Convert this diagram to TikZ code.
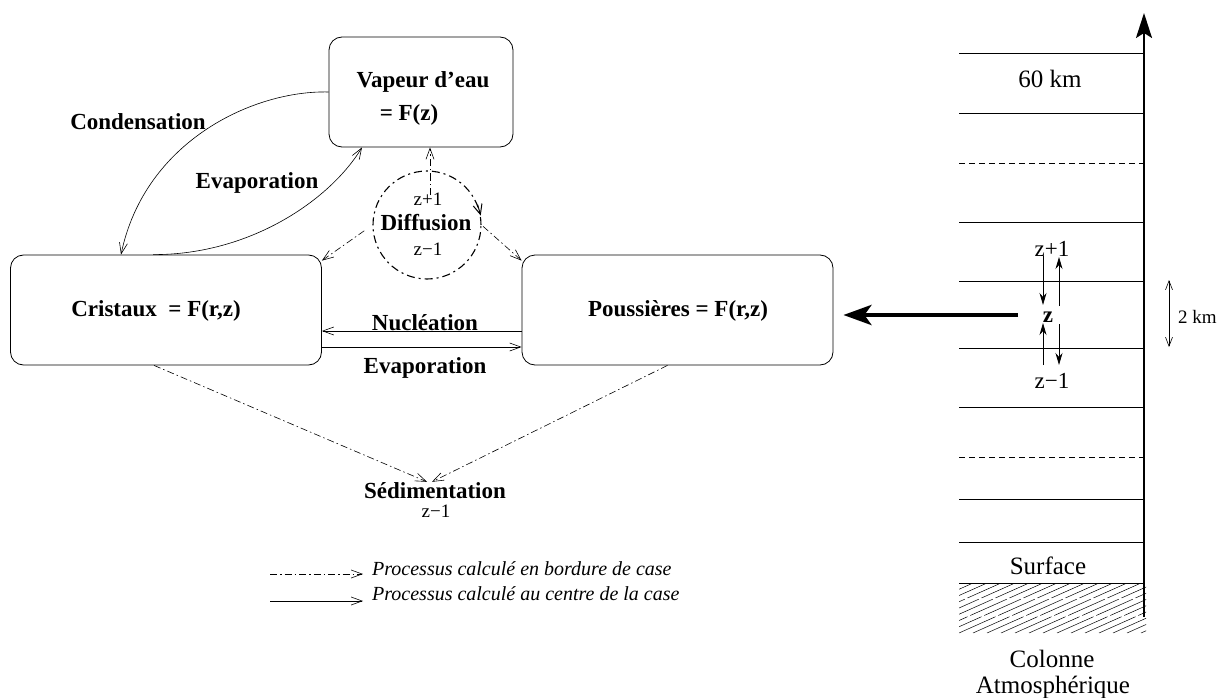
\documentclass[tikz,border=0pt]{standalone}
\usepackage{fontspec}
\setmainfont{Liberation Serif}
\usetikzlibrary{arrows.meta}
\begin{document}
\begin{tikzpicture}[x=1pt,y=-1pt,
  box/.style={draw,rounded corners=13pt,line width=0.8pt,inner sep=0pt},
  big/.style={font=\fontsize{23}{27}\selectfont\bfseries,inner sep=0pt,anchor=base},
  small/.style={font=\fontsize{19}{22}\selectfont,inner sep=0pt,anchor=base},
  mid/.style={font=\fontsize{23}{27}\selectfont,inner sep=0pt,anchor=base},
  col/.style={font=\fontsize{25}{29}\selectfont,inner sep=0pt,anchor=base},
  leg/.style={font=\fontsize{20}{24}\selectfont\itshape,inner sep=0pt,anchor=base west},
  dd/.style={dash pattern=on 7pt off 3pt on 1.5pt off 3pt, line width=0.6pt},
  barb/.style={-{Straight Barb[length=11pt,width=8pt]}},
  thinl/.style={line width=0.6pt},
  lvl/.style={line width=0.7pt},
  za/.style={line width=0.8pt,-{Stealth[length=12pt,width=7pt]}}
]
\useasboundingbox (0,0) rectangle (1221,698);

% boxes
\node[box,minimum width=184pt,minimum height=110pt] (vap) at (421,92) {};
\node[box,minimum width=311pt,minimum height=110pt] (cri) at (166,310) {};
\node[box,minimum width=311pt,minimum height=110pt] (pou) at (677.5,310) {};
\node[draw,circle,inner sep=0pt,minimum size=108pt,line width=1.1pt,
      dash pattern=on 8pt off 4pt on 2pt off 4pt] (dif) at (427,225) {};

% texts
\node[big] (tvap1) at (423,88) {Vapeur d’eau};
\node[big] (tvap2) at (409,121) {= F(z)};
\node[big] (tcri) at (156,316) {Cristaux\ \ = F(r,z)};
\node[big] (tpou) at (678,316) {Poussières = F(r,z)};
\node[small] (tzp) at (428,205) {z+1};
\node[big] (tdif) at (426,230) {Diffusion};
\node[small] (tzm) at (428,255) {z−1};
\node[big] (tcond) at (138,130) {Condensation};
\node[big] (tev1) at (257,188) {Evaporation};
\node[big] (tnuc) at (425,330) {Nucléation};
\node[big] (tev2) at (425,373) {Evaporation};
\node[big] (tsed) at (435,498) {Sédimentation};
\node[small] (tsz) at (436,517) {z−1};
\node[leg] (leg1) at (372,575) {Processus calculé en bordure de case};
\node[leg] (leg2) at (372,600) {Processus calculé au centre de la case};

% connectors
\draw[thinl,barb] (vap.west) .. controls (255,90) and (145,140) .. ([xshift=-45pt]cri.north);
\draw[thinl,barb] ([xshift=-13pt]cri.north) .. controls (250,255) and (330,200) .. ([xshift=-59pt]vap.south);
\draw[thinl,barb] ([yshift=-21pt]pou.west) -- ([yshift=-21pt]cri.east);
\draw[thinl,barb] ([yshift=-37pt]cri.east) -- ([yshift=-37pt]pou.west);
\draw[dd,barb,shorten <=10pt] (dif.west) -- ([yshift=-6pt]cri.north east);
\draw[dd,barb,shorten <=2pt] (dif.east) -- ([yshift=-6pt]pou.north west);
\draw[dd,barb] ([xshift=3pt,yshift=30pt]dif.center) -- ([xshift=9pt]vap.south);
\draw[line width=1pt,-{Straight Barb[length=10pt,width=9pt]}] (dif.22) -- (dif.10);
\draw[dd,barb] ([xshift=-12pt]cri.south) -- ([xshift=-8pt]tsed.north);
\draw[dd,barb] ([xshift=-10pt]pou.south) -- ([xshift=-3pt]tsed.north);

% legend
\coordinate (l1) at (270,574);
\coordinate (l2) at (270,601);
\draw[dd,barb] (l1) -- ([xshift=-9pt,yshift=1pt]leg1.base west);
\draw[thinl,barb] (l2) -- ([xshift=-9pt,yshift=-1pt]leg2.base west);

% atmospheric column
\begin{scope}
\clip (959,584) rectangle (1146,633);
\foreach \i in {0,...,24} \draw[line width=0.5pt,dash pattern=on 40pt off 3pt] (833+\i*14,633) -- ++(130,-58);
\end{scope}
\foreach \y in {53,113,222,281,348,407,499,542,583} \draw[lvl] (959,\y) -- (1144,\y);
\foreach \y in {163,457} \draw[lvl,dash pattern=on 6pt off 4pt] (959,\y) -- (1144,\y);
\coordinate (axb) at (1144,617);
\coordinate (axt) at (1144,13);
\draw[line width=2pt,-{Stealth[length=25pt,width=16pt,inset=5pt]}] (axb) -- (axt);

\node[col] (t60) at (1050,88) {60 km};
\node[col] (tsurf) at (1048,574) {Surface};
\node[col] (tcol1) at (1052,667) {Colonne};
\node[col] (tcol2) at (1053,693) {Atmosphérique};
\node[mid] (rzp) at (1052,256) {z+1};
\node[big] (rz) at (1048,322) {z};
\node[mid] (rzm) at (1052,388) {z−1};
\node[small,anchor=base west] (t2km) at (1178,323) {2 km};

\draw[za] (1043,256) -- (1043,305);
\draw[za] (1059,306) -- (1059,257);
\draw[za] (1043,365) -- (1043,323);
\draw[za] (1059,324) -- (1059,365);
\draw[thinl,{Straight Barb[length=9pt,width=7pt]}-{Straight Barb[length=9pt,width=7pt]}] (1169,280) -- (1169,347);

\coordinate (tha) at (1018,315);
\draw[line width=4.5pt,-{Stealth[length=28pt,width=20pt,inset=7pt]}] (tha) -- ([xshift=10pt,yshift=-5pt]pou.east);
\end{tikzpicture}
\end{document}
